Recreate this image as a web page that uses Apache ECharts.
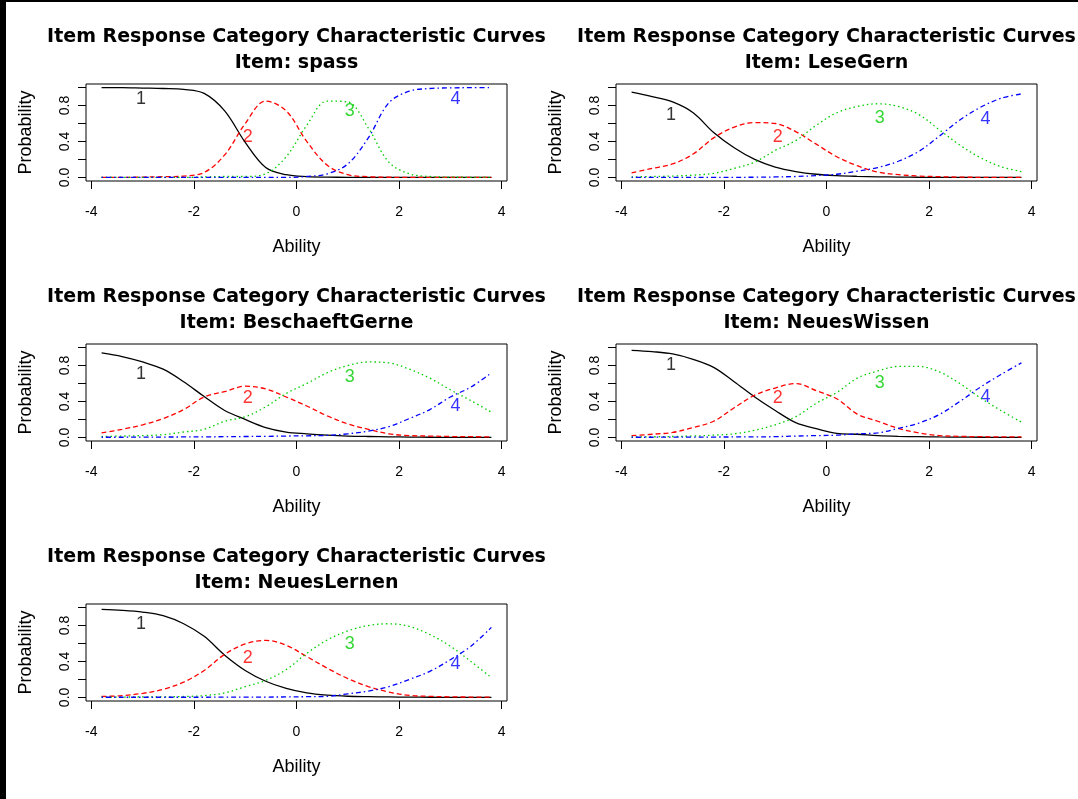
<!DOCTYPE html>
<html><head><meta charset="utf-8">
<script src="https://cdn.jsdelivr.net/npm/echarts@6/dist/echarts.min.js"></script>
<style>html,body{margin:0;padding:0;background:#fff}#c{width:1078px;height:799px}</style>
</head><body><div id="c"></div>
<script>
// ---- data ----
const ability = [-3.8,-3.4,-3.0,-2.6,-2.2,-1.8,-1.4,-1.0,-0.6,-0.2,0.2,0.6,1.0,1.4,1.8,2.2,2.6,3.0,3.4,3.8];
const itemNames = ['spass','LeseGern','BeschaeftGerne','NeuesWissen','NeuesLernen'];
const categoryLabels = ['1','2','3','4'];
const titleText = 'Item Response Category Characteristic Curves';
const xTicks = [-4,-2,0,2,4];
const yTicks = [0,0.2,0.4,0.6,0.8,1.0];
const yTickLabels = [0,0.4,0.8];

const spassCat1 = [1.0,1.0,0.995,0.99,0.98,0.935,0.74,0.39,0.11,0.03,0.008,0.003,0.001,0,0,0,0,0,0,0];
const spassCat2 = [0,0,0.004,0.008,0.015,0.055,0.25,0.60,0.85,0.74,0.40,0.135,0.03,0.008,0.002,0,0,0,0,0];
const spassCat3 = [0,0,0,0,0,0.005,0.01,0.01,0.04,0.23,0.58,0.85,0.84,0.55,0.17,0.04,0.01,0.003,0.001,0];
const spassCat4 = [0,0,0,0,0,0,0,0,0,0,0.01,0.04,0.15,0.44,0.83,0.96,0.99,0.997,0.999,1.0];

const leseCat1 = [0.95,0.90,0.84,0.72,0.50,0.33,0.20,0.115,0.065,0.035,0.02,0.012,0.007,0.004,0.002,0.001,0,0,0,0];
const leseCat2 = [0.05,0.10,0.15,0.26,0.44,0.56,0.61,0.60,0.51,0.37,0.23,0.13,0.06,0.03,0.015,0.008,0.003,0.001,0,0];
const leseCat3 = [0.005,0.01,0.015,0.025,0.045,0.10,0.17,0.30,0.41,0.58,0.72,0.79,0.82,0.79,0.70,0.53,0.36,0.22,0.12,0.065];
const leseCat4 = [0,0,0,0,0.001,0.001,0.002,0.005,0.01,0.02,0.035,0.07,0.11,0.18,0.29,0.46,0.64,0.78,0.88,0.93];

const beschCat1 = [0.94,0.90,0.84,0.76,0.62,0.455,0.30,0.20,0.11,0.06,0.04,0.025,0.015,0.01,0.007,0.004,0.002,0.001,0.001,0];
const beschCat2 = [0.05,0.09,0.14,0.21,0.31,0.45,0.51,0.57,0.54,0.45,0.35,0.24,0.15,0.09,0.04,0.02,0.015,0.01,0.008,0.006];
const beschCat3 = [0.01,0.015,0.02,0.03,0.06,0.09,0.18,0.23,0.34,0.49,0.60,0.72,0.80,0.84,0.83,0.76,0.66,0.53,0.41,0.28];
const beschCat4 = [0.002,0.002,0.003,0.004,0.005,0.006,0.008,0.01,0.012,0.015,0.018,0.022,0.04,0.07,0.12,0.21,0.31,0.45,0.56,0.72];

const wissenCat1 = [0.97,0.955,0.93,0.87,0.78,0.62,0.45,0.30,0.165,0.098,0.045,0.035,0.02,0.012,0.008,0.005,0.003,0.002,0.001,0.001];
const wissenCat2 = [0.02,0.035,0.055,0.11,0.18,0.33,0.47,0.55,0.60,0.52,0.43,0.26,0.18,0.10,0.05,0.02,0.012,0.008,0.006,0.005];
const wissenCat3 = [0.005,0.007,0.01,0.015,0.025,0.04,0.08,0.14,0.23,0.38,0.50,0.66,0.74,0.79,0.79,0.73,0.60,0.44,0.30,0.17];
const wissenCat4 = [0.002,0.002,0.003,0.003,0.004,0.005,0.006,0.008,0.015,0.02,0.025,0.04,0.05,0.10,0.16,0.255,0.40,0.56,0.70,0.83];

const lernenCat1 = [0.98,0.97,0.95,0.91,0.82,0.68,0.47,0.30,0.18,0.10,0.05,0.025,0.013,0.008,0.005,0.003,0.002,0.001,0.001,0.001];
const lernenCat2 = [0.01,0.02,0.045,0.09,0.17,0.30,0.48,0.595,0.635,0.58,0.455,0.325,0.21,0.12,0.06,0.022,0.012,0.006,0.004,0.003];
const lernenCat3 = [0.003,0.004,0.005,0.006,0.01,0.02,0.05,0.12,0.19,0.31,0.49,0.64,0.74,0.80,0.82,0.79,0.70,0.57,0.40,0.22];
const lernenCat4 = [0.002,0.002,0.002,0.002,0.002,0.002,0.003,0.003,0.004,0.005,0.008,0.012,0.04,0.07,0.12,0.20,0.29,0.42,0.57,0.78];

// curve label anchors (ability, probability)
const labelX = [-3.03,-0.95,1.04,3.1];
const spassLabelY = [0.87,0.45,0.74,0.87];
const leseLabelY = [0.70,0.45,0.665,0.65];
const beschLabelY = [0.71,0.44,0.67,0.35];
const wissenLabelY = [0.81,0.44,0.61,0.45];
const lernenLabelY = [0.815,0.44,0.59,0.37];

// ---- layout / style ----
const panels = [
  {cats:[spassCat1,spassCat2,spassCat3,spassCat4], ly:spassLabelY},
  {cats:[leseCat1,leseCat2,leseCat3,leseCat4], ly:leseLabelY},
  {cats:[beschCat1,beschCat2,beschCat3,beschCat4], ly:beschLabelY},
  {cats:[wissenCat1,wissenCat2,wissenCat3,wissenCat4], ly:wissenLabelY},
  {cats:[lernenCat1,lernenCat2,lernenCat3,lernenCat4], ly:lernenLabelY}
];
const colLeft = [86, 616];
const rowTop = [84, 344, 604];
const GW = 421, GH = 97;
const colors = ['#000000','#FF0000','#00CD00','#0000FF'];
const dashes = ['solid',[5,3],[1.5,3],[1.5,3,5,3]];
const txt = '#000';

const grid = [], xAxis = [], yAxis = [], series = [], graphic = [];
graphic.push({type:'rect', shape:{x:0,y:0,width:6,height:799}, style:{fill:'#000'}, silent:true});
graphic.push({type:'rect', shape:{x:0,y:0,width:1078,height:2}, style:{fill:'#000'}, silent:true});

panels.forEach((p, i) => {
  const left = colLeft[i % 2], top = rowTop[Math.floor(i / 2)];
  const cx = left + GW / 2;
  grid.push({left, top, width:GW, height:GH, show:true, borderColor:'#000', borderWidth:1, backgroundColor:'transparent', containLabel:false});
  xAxis.push({gridIndex:i, type:'value', min:-4.104, max:4.104, position:'bottom',
    axisLine:{show:false, onZero:false}, splitLine:{show:false},
    axisTick:{show:true, length:8, customValues:xTicks, lineStyle:{color:'#000', width:1}},
    axisLabel:{customValues:xTicks, margin:24, fontSize:14, fontFamily:'Liberation Sans', color:txt}});
  yAxis.push({gridIndex:i, type:'value', min:-0.04, max:1.04, position:'left',
    axisLine:{show:false, onZero:false}, splitLine:{show:false},
    axisTick:{show:true, length:8, customValues:yTicks, lineStyle:{color:'#000', width:1}},
    axisLabel:{customValues:yTickLabels, rotate:90, margin:14, fontSize:14, fontFamily:'Liberation Sans', color:txt,
      formatter:(v)=>Number(v).toFixed(1)}});
  p.cats.forEach((vals, k) => {
    series.push({type:'line', xAxisIndex:i, yAxisIndex:i, showSymbol:false, smooth:0.35, silent:true,
      data: ability.map((x, j) => [x, vals[j]]),
      lineStyle:{color:colors[k], width:1.3, type:dashes[k]}, animation:false});
  });
  series.push({type:'scatter', xAxisIndex:i, yAxisIndex:i, symbolSize:1, silent:true, animation:false,
    itemStyle:{color:'rgba(0,0,0,0)'},
    data: labelX.map((x, k) => ({value:[x, p.ly[k]], label:{color:colors[k]}, name:categoryLabels[k]})),
    label:{show:true, position:'inside', formatter:(d)=>d.name, fontSize:18, fontFamily:'Liberation Sans'}});
  // titles
  graphic.push({type:'text', x:cx, y:top - 47, silent:true,
    style:{text:titleText, align:'center', verticalAlign:'middle', textAlign:'center', textVerticalAlign:'middle',
      fill:'#000', fontSize:19, fontWeight:'bold', fontFamily:'DejaVu Sans'}});
  graphic.push({type:'text', x:cx, y:top - 21, silent:true,
    style:{text:'Item: ' + itemNames[i], align:'center', verticalAlign:'middle', textAlign:'center', textVerticalAlign:'middle',
      fill:'#000', fontSize:19, fontWeight:'bold', fontFamily:'DejaVu Sans'}});
  graphic.push({type:'text', x:cx, y:top + 163, silent:true,
    style:{text:'Ability', align:'center', verticalAlign:'middle', textAlign:'center', textVerticalAlign:'middle',
      fill:'#000', fontSize:18, fontFamily:'Liberation Sans'}});
  graphic.push({type:'text', x:left - 60, y:top + GH / 2, rotation:Math.PI / 2, silent:true,
    style:{text:'Probability', align:'center', verticalAlign:'middle', textAlign:'center', textVerticalAlign:'middle',
      fill:'#000', fontSize:18, fontFamily:'Liberation Sans'}});
});

const chart = echarts.init(document.getElementById('c'), null, {renderer:'canvas'});
chart.setOption({animation:false, backgroundColor:'#fff', grid, xAxis, yAxis, series, graphic});
</script></body></html>
